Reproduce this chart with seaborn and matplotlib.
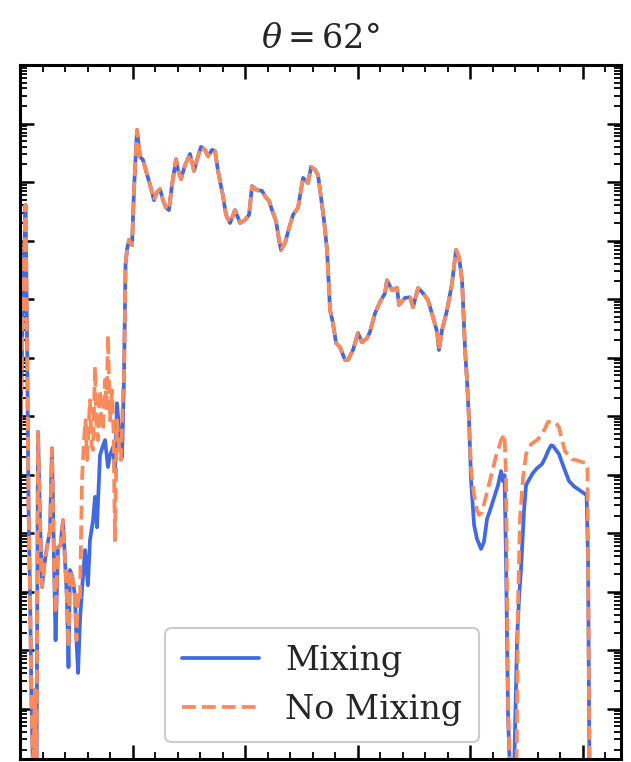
import numpy as np
import pandas as pd
import matplotlib
matplotlib.use("Agg")
import matplotlib.pyplot as plt
from matplotlib.ticker import FixedLocator, MultipleLocator, NullFormatter
import seaborn as sns

# ---- spectrum with chemical mixing (wavelength, log10 flux) ----
wave_mix = [
    0.004, 0.027, 0.049, 0.062, 0.076, 0.089, 0.102, 0.116, 0.133, 0.147,
    0.160, 0.178, 0.196, 0.222, 0.240, 0.267, 0.284, 0.302, 0.316, 0.338,
    0.360, 0.382, 0.400, 0.418, 0.431, 0.444, 0.462, 0.476, 0.489, 0.502,
    0.516, 0.533, 0.551, 0.578, 0.604, 0.622, 0.649, 0.667, 0.684, 0.711,
    0.738, 0.756, 0.782, 0.800, 0.827, 0.844, 0.862, 0.889, 0.907, 0.924,
    0.938, 0.951, 0.969, 0.996, 1.013, 1.040, 1.067, 1.093, 1.120, 1.156,
    1.191, 1.218, 1.244, 1.271, 1.298, 1.324, 1.351, 1.387, 1.404, 1.431,
    1.467, 1.511, 1.547, 1.573, 1.609, 1.644, 1.671, 1.707, 1.733, 1.760,
    1.804, 1.831, 1.867, 1.911, 1.956, 2.000, 2.036, 2.062, 2.107, 2.151,
    2.187, 2.213, 2.240, 2.276, 2.302, 2.320, 2.356, 2.391, 2.427, 2.471,
    2.516, 2.560, 2.587, 2.622, 2.649, 2.676, 2.702, 2.729, 2.756, 2.782,
    2.809, 2.844, 2.889, 2.916, 2.960, 3.004, 3.040, 3.084, 3.111, 3.156,
    3.200, 3.244, 3.262, 3.307, 3.351, 3.369, 3.422, 3.467, 3.493, 3.538,
    3.582, 3.627, 3.671, 3.707, 3.724, 3.751, 3.796, 3.840, 3.876, 3.902,
    3.929, 3.956, 3.973, 3.991, 4.009, 4.036, 4.062, 4.098, 4.124, 4.151,
    4.178, 4.213, 4.249, 4.276, 4.293, 4.307, 4.320, 4.338, 4.356, 4.391,
    4.418, 4.436, 4.453, 4.480, 4.498, 4.524, 4.560, 4.596, 4.640, 4.667,
    4.693, 4.720, 4.738, 4.764, 4.791, 4.836, 4.880, 4.924, 4.969, 5.013,
    5.036, 5.049, 5.062,
]
logf_mix = [
    -6.24, -4.02, -2.39, -4.53, -7.56, -9.03, -10.85, -12.14, -10.68, -12.14,
    -6.27, -7.78, -8.92, -8.46, -8.24, -7.95, -6.55, -8.46, -9.83, -8.24,
    -8.21, -7.78, -8.46, -9.15, -10.29, -8.63, -8.72, -8.89, -9.09, -9.83,
    -10.39, -9.49, -8.97, -8.29, -8.89, -8.12, -7.78, -7.38, -7.90, -6.67,
    -6.50, -6.41, -6.87, -6.67, -6.53, -6.92, -5.78, -6.41, -6.70, -5.38,
    -3.42, -3.15, -2.99, -3.08, -2.14, -1.11, -1.57, -1.62, -1.81, -2.05,
    -2.31, -2.17, -2.12, -2.31, -2.44, -2.48, -2.05, -1.61, -1.79, -1.95,
    -1.71, -1.52, -1.81, -1.62, -1.40, -1.45, -1.56, -1.45, -1.47, -1.81,
    -2.24, -2.56, -2.70, -2.48, -2.70, -2.65, -2.56, -2.07, -2.14, -2.15,
    -2.27, -2.32, -2.48, -2.67, -2.99, -3.16, -3.04, -2.79, -2.56, -2.44,
    -1.93, -2.02, -1.74, -1.79, -1.88, -2.27, -2.65, -3.16, -4.19, -4.41,
    -4.75, -4.82, -5.04, -5.04, -4.87, -4.58, -4.74, -4.67, -4.56, -4.24,
    -4.05, -3.90, -3.68, -3.85, -3.81, -4.10, -3.98, -3.97, -4.14, -3.81,
    -3.90, -4.02, -4.31, -4.56, -4.87, -4.53, -4.19, -3.73, -3.16, -3.28,
    -3.68, -4.87, -5.38, -6.07, -7.09, -7.86, -8.10, -8.27, -8.15, -7.76,
    -7.61, -7.40, -7.18, -6.94, -7.11, -7.01, -8.46, -11.11, -12.14, -12.14,
    -9.83, -9.09, -8.63, -7.61, -7.18, -7.09, -6.97, -6.89, -6.82, -6.72,
    -6.60, -6.50, -6.51, -6.58, -6.65, -6.89, -7.11, -7.20, -7.26, -7.32,
    -7.35, -8.46, -12.14,
]

# ---- spectrum without mixing: differs at short and long wavelengths ----
logf_nomix_blue_end = [
    -6.24, -4.02, -2.39, -4.53, -7.56, -9.03, -10.85, -12.14, -10.68, -12.14,
    -6.27, -7.78, -8.92, -8.46, -8.24, -7.95, -6.55, -8.46, -9.37, -8.24,
    -8.21, -7.78, -8.46, -9.15, -9.95, -8.63, -8.72, -8.89, -9.09, -9.83,
    -9.06,
]
wave_nomix_band = [
    0.533, 0.551, 0.569, 0.582, 0.596, 0.609, 0.622, 0.636, 0.649, 0.667,
    0.680, 0.693, 0.711, 0.724, 0.738, 0.756, 0.769, 0.782, 0.800, 0.818,
    0.831, 0.844, 0.862, 0.880, 0.898, 0.916, 0.924,
]
logf_nomix_band = [
    -9.15, -7.09, -6.41, -6.07, -6.75, -6.24, -5.73, -6.50, -6.58, -5.16,
    -6.24, -6.41, -5.56, -6.15, -6.24, -5.38, -5.90, -4.62, -6.07, -5.56,
    -6.24, -8.12, -6.07, -6.50, -6.75, -5.56, -5.38,
]
wave_nomix_red = [
    4.009, 4.036, 4.062, 4.080, 4.107, 4.133, 4.151, 4.178, 4.213, 4.240,
    4.258, 4.276, 4.293, 4.307, 4.320, 4.338, 4.356, 4.391, 4.413, 4.427,
    4.444, 4.471, 4.498, 4.542, 4.596, 4.640, 4.667, 4.693, 4.738, 4.764,
    4.791, 4.818, 4.844, 4.880, 4.907, 4.942, 4.969, 5.004, 5.031, 5.044,
    5.062,
]
logf_nomix_red = [
    -6.92, -7.35, -7.61, -7.69, -7.64, -7.44, -7.30, -7.09, -6.82, -6.62,
    -6.53, -6.41, -6.36, -6.31, -7.06, -10.94, -12.14, -12.14, -12.14, -9.15,
    -7.76, -7.06, -6.65, -6.48, -6.41, -6.31, -6.21, -6.10, -6.09, -6.12,
    -6.19, -6.41, -6.60, -6.68, -6.74, -6.75, -6.77, -6.79, -6.80, -6.89,
    -12.14,
]

wave_nomix = wave_mix[:31] + wave_nomix_band + wave_mix[50:144] + wave_nomix_red
logf_nomix = logf_nomix_blue_end + logf_nomix_band + logf_mix[50:144] + logf_nomix_red

labels = ["Mixing", "No Mixing"]
colors = {"Mixing": "#4169E1", "No Mixing": "#F98A5C"}

df = pd.concat([
    pd.DataFrame({"wave": wave_mix, "flux": 10.0 ** np.array(logf_mix),
                  "model": labels[0]}),
    pd.DataFrame({"wave": wave_nomix, "flux": 10.0 ** np.array(logf_nomix),
                  "model": labels[1]}),
], ignore_index=True)

sns.set_theme(style="ticks")
plt.rcParams["font.family"] = ["DejaVu Serif"]
plt.rcParams["mathtext.fontset"] = "dejavuserif"

fig = plt.figure(figsize=(6.31, 7.62), dpi=100)
ax = fig.add_axes([20 / 631, 3 / 762, 601 / 631, 694 / 762])

sns.lineplot(data=df, x="wave", y="flux", hue="model", style="model",
             hue_order=labels, style_order=labels, palette=colors,
             dashes={"Mixing": "", "No Mixing": (3.7, 1.6)},
             sort=False, estimator=None, linewidth=2.7, ax=ax)

ax.set_yscale("log")
ax.set_ylim(10 ** -11.86, 1.0)
ax.set_xlim(0, 5.342)
ax.set_xlabel("")
ax.set_ylabel("")

# every decade gets a major tick, with 2..9 minor ticks in between
decades = np.arange(-13, 2)
ax.yaxis.set_major_locator(FixedLocator(10.0 ** decades))
ax.yaxis.set_minor_locator(FixedLocator(
    [m * 10.0 ** d for d in decades for m in range(2, 10)]))
ax.yaxis.set_minor_formatter(NullFormatter())
ax.xaxis.set_major_locator(MultipleLocator(1.0))
ax.xaxis.set_minor_locator(MultipleLocator(0.2))
ax.tick_params(which="both", direction="in", top=True, right=True,
               labelleft=False, labelbottom=False, color="black")
ax.tick_params(which="major", length=10, width=1.8)
ax.tick_params(which="minor", length=5, width=1.3)
for sp in ax.spines.values():
    sp.set_linewidth(2.2)
    sp.set_color("black")

ax.set_title(r"$\theta = 62°$", fontsize=24, pad=12)

handles, labs = ax.get_legend_handles_labels()
leg = ax.legend(handles, labs, loc="lower center", bbox_to_anchor=(0.503, 0.0),
                fontsize=24, frameon=True, fancybox=True, framealpha=1.0,
                edgecolor="#cccccc", handlelength=2.3, handletextpad=0.8,
                borderpad=0.5, borderaxespad=0.5)
leg.get_frame().set_linewidth(1.5)
for h in leg.get_lines():
    h.set_linewidth(2.7)

fig.canvas.draw()
fig.savefig("out.png", dpi=100)
